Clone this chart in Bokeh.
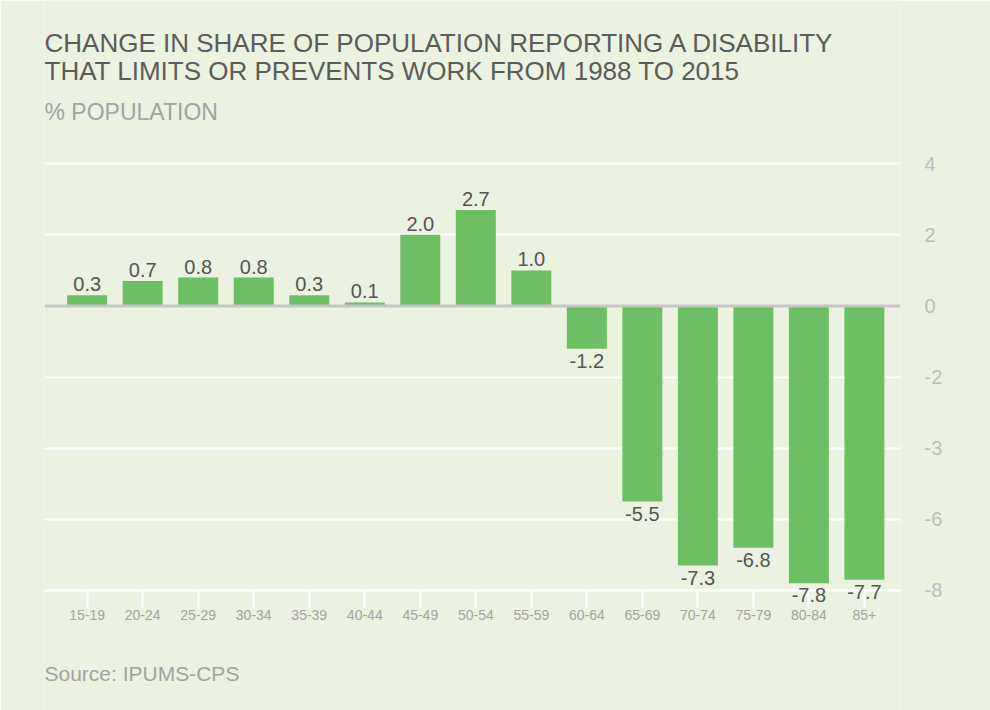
from bokeh.plotting import figure
from bokeh.models import Range1d, FixedTicker, Span, Label
from bokeh.core.properties import value
from bokeh.embed import file_html
from bokeh.resources import INLINE

# ---- data ----
categories = ["15-19", "20-24", "25-29", "30-34", "35-39", "40-44", "45-49",
              "50-54", "55-59", "60-64", "65-69", "70-74", "75-79", "80-84", "85+"]
values = [0.3, 0.7, 0.8, 0.8, 0.3, 0.1, 2.0, 2.7, 1.0, -1.2, -5.5, -7.3, -6.8, -7.8, -7.7]
y_ticks = [4, 2, 0, -2, -4, -6, -8]
y_tick_labels = ["4", "2", "0", "-2", "-3", "-6", "-8"]

title_lines = ["CHANGE IN SHARE OF POPULATION REPORTING A DISABILITY",
               "THAT LIMITS OR PREVENTS WORK FROM 1988 TO 2015"]
subtitle = "% POPULATION"
source_text = "Source: IPUMS-CPS"

BG = "#ebf2df"
GREEN = "#6cbf65"
FONT = "Liberation Sans"

xs = list(range(len(categories)))
pos_x = [x for x, v in zip(xs, values) if v >= 0]
pos_v = [v for v in values if v >= 0]
neg_x = [x for x, v in zip(xs, values) if v < 0]
neg_v = [v for v in values if v < 0]

# frame: left 44, right 900, full height (canvas px); x axis pinned at y = -8
p = figure(width=990, height=710, output_backend="svg", toolbar_location=None,
           x_range=Range1d(-0.769, 14.65), y_range=Range1d(-11.375, 8.59),
           y_axis_location="right",
           min_border_left=44, min_border_right=90, min_border_top=0,
           min_border_bottom=0)
p.background_fill_color = BG
p.border_fill_color = BG
p.outline_line_color = None

# grid
p.xgrid.grid_line_color = None
p.ygrid.ticker = FixedTicker(ticks=[t for t in y_ticks if t != 0])
p.ygrid.grid_line_color = "white"
p.ygrid.grid_line_width = 2

# zero line
p.add_layout(Span(location=0, dimension="width", line_color="#c6c6c6", line_width=3))

# bars
p.vbar(x=xs, top=values, bottom=0, width=0.72, fill_color=GREEN, line_color=None)

# value labels
p.text(x=pos_x, y=pos_v, text=["%.1f" % v for v in pos_v], text_align="center",
       text_baseline="bottom", text_font=value(FONT),
       text_font_size="20px", text_color="#555555", y_offset=-4)
p.text(x=neg_x, y=neg_v, text=["%.1f" % v for v in neg_v], text_align="center",
       text_baseline="top", text_font=value(FONT),
       text_font_size="20px", text_color="#555555", y_offset=5)

# x axis, drawn at y = -8, beneath the bars and labels
xa = p.xaxis[0]
xa.fixed_location = min(y_ticks)
xa.level = "underlay"
xa.ticker = FixedTicker(ticks=xs)
xa.major_label_overrides = {x: c for x, c in zip(xs, categories)}
xa.axis_line_color = "white"
xa.axis_line_width = 2
xa.major_tick_line_color = "white"
xa.major_tick_line_width = 2
xa.major_tick_in = 0
xa.major_tick_out = 17
xa.minor_tick_line_color = None
xa.major_label_standoff = 3
xa.major_label_text_font = FONT
xa.major_label_text_font_size = "14px"
xa.major_label_text_color = "#a3a3a3"

# y axis
ya = p.yaxis[0]
ya.ticker = FixedTicker(ticks=y_ticks)
ya.major_label_overrides = {t: l for t, l in zip(y_ticks, y_tick_labels)}
ya.axis_line_color = None
ya.major_tick_line_color = None
ya.minor_tick_line_color = None
ya.major_label_standoff = 18
ya.major_label_text_align = "right"
ya.major_label_text_font = FONT
ya.major_label_text_font_size = "20px"
ya.major_label_text_color = "#bdbdbd"

# titles and source (screen units, relative to the frame's bottom-left corner)
p.add_layout(Label(x=0, y=668, x_units="screen", y_units="screen", text=title_lines[0],
                   text_font=FONT, text_font_size="26px", text_color="#5c5c5c",
                   text_baseline="alphabetic"))
p.add_layout(Label(x=0, y=640, x_units="screen", y_units="screen", text=title_lines[1],
                   text_font=FONT, text_font_size="26px", text_color="#5c5c5c",
                   text_baseline="alphabetic"))
p.add_layout(Label(x=0, y=599, x_units="screen", y_units="screen", text=subtitle,
                   text_font=FONT, text_font_size="23px", text_color="#a3a3a3",
                   text_baseline="alphabetic"))
p.add_layout(Label(x=0, y=37, x_units="screen", y_units="screen", text=source_text,
                   text_font=FONT, text_font_size="21px", text_color="#a3a3a3",
                   text_baseline="alphabetic"))

open("out.html", "w").write(file_html(p, INLINE))
